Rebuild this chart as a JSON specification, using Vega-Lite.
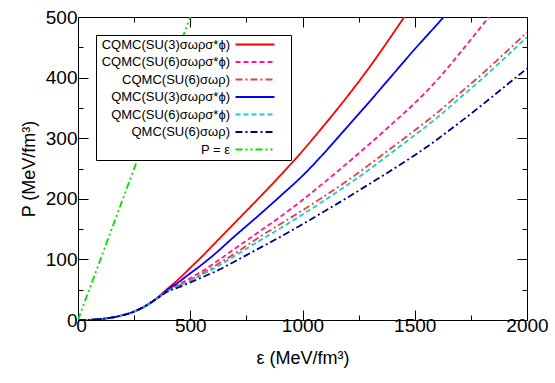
{
  "$schema": "https://vega.github.io/schema/vega-lite/v6.json",
  "width": 449,
  "height": 303,
  "autosize": {"type": "none"},
  "padding": {"left": 78, "top": 17, "right": 28, "bottom": 63},
  "config": {
    "font": "Liberation Sans",
    "view": {"stroke": "black", "strokeWidth": 1},
    "axis": {
      "grid": false, "domain": false, "tickColor": "black", "tickWidth": 1,
      "labelColor": "black", "titleColor": "black",
      "labelFontSize": 19, "titleFontSize": 18, "titleFontWeight": "normal",
      "labelFont": "Liberation Sans", "titleFont": "Liberation Sans",
      "labelFlush": false, "labelOverlap": false, "labelBound": false
    }
  },
  "data": {"values": [
    {"s":"CQMC(SU(3)σωρσ*ϕ)","e":0,"p":0},{"s":"CQMC(SU(3)σωρσ*ϕ)","e":50,"p":0.3},{"s":"CQMC(SU(3)σωρσ*ϕ)","e":100,"p":1.5},{"s":"CQMC(SU(3)σωρσ*ϕ)","e":150,"p":4},{"s":"CQMC(SU(3)σωρσ*ϕ)","e":200,"p":8},{"s":"CQMC(SU(3)σωρσ*ϕ)","e":250,"p":14},{"s":"CQMC(SU(3)σωρσ*ϕ)","e":300,"p":23},{"s":"CQMC(SU(3)σωρσ*ϕ)","e":350,"p":36},{"s":"CQMC(SU(3)σωρσ*ϕ)","e":400,"p":52},{"s":"CQMC(SU(3)σωρσ*ϕ)","e":450,"p":68},{"s":"CQMC(SU(3)σωρσ*ϕ)","e":500,"p":86},{"s":"CQMC(SU(3)σωρσ*ϕ)","e":550,"p":104},{"s":"CQMC(SU(3)σωρσ*ϕ)","e":600,"p":123},{"s":"CQMC(SU(3)σωρσ*ϕ)","e":700,"p":161},{"s":"CQMC(SU(3)σωρσ*ϕ)","e":800,"p":199},{"s":"CQMC(SU(3)σωρσ*ϕ)","e":900,"p":238},{"s":"CQMC(SU(3)σωρσ*ϕ)","e":1000,"p":279},{"s":"CQMC(SU(3)σωρσ*ϕ)","e":1100,"p":323},{"s":"CQMC(SU(3)σωρσ*ϕ)","e":1200,"p":369},{"s":"CQMC(SU(3)σωρσ*ϕ)","e":1300,"p":418},{"s":"CQMC(SU(3)σωρσ*ϕ)","e":1400,"p":471},{"s":"CQMC(SU(3)σωρσ*ϕ)","e":1500,"p":526},
    {"s":"CQMC(SU(6)σωρσ*ϕ)","e":0,"p":0},{"s":"CQMC(SU(6)σωρσ*ϕ)","e":50,"p":0.3},{"s":"CQMC(SU(6)σωρσ*ϕ)","e":100,"p":1.5},{"s":"CQMC(SU(6)σωρσ*ϕ)","e":150,"p":4},{"s":"CQMC(SU(6)σωρσ*ϕ)","e":200,"p":8},{"s":"CQMC(SU(6)σωρσ*ϕ)","e":250,"p":14},{"s":"CQMC(SU(6)σωρσ*ϕ)","e":300,"p":23},{"s":"CQMC(SU(6)σωρσ*ϕ)","e":350,"p":35},{"s":"CQMC(SU(6)σωρσ*ϕ)","e":400,"p":49},{"s":"CQMC(SU(6)σωρσ*ϕ)","e":450,"p":59},{"s":"CQMC(SU(6)σωρσ*ϕ)","e":500,"p":69},{"s":"CQMC(SU(6)σωρσ*ϕ)","e":550,"p":80},{"s":"CQMC(SU(6)σωρσ*ϕ)","e":600,"p":92},{"s":"CQMC(SU(6)σωρσ*ϕ)","e":700,"p":118},{"s":"CQMC(SU(6)σωρσ*ϕ)","e":800,"p":144},{"s":"CQMC(SU(6)σωρσ*ϕ)","e":900,"p":170},{"s":"CQMC(SU(6)σωρσ*ϕ)","e":1000,"p":198},{"s":"CQMC(SU(6)σωρσ*ϕ)","e":1100,"p":228},{"s":"CQMC(SU(6)σωρσ*ϕ)","e":1200,"p":259},{"s":"CQMC(SU(6)σωρσ*ϕ)","e":1300,"p":291},{"s":"CQMC(SU(6)σωρσ*ϕ)","e":1400,"p":324},{"s":"CQMC(SU(6)σωρσ*ϕ)","e":1500,"p":358},{"s":"CQMC(SU(6)σωρσ*ϕ)","e":1600,"p":396},{"s":"CQMC(SU(6)σωρσ*ϕ)","e":1700,"p":440},{"s":"CQMC(SU(6)σωρσ*ϕ)","e":1800,"p":486},{"s":"CQMC(SU(6)σωρσ*ϕ)","e":1900,"p":534},
    {"s":"CQMC(SU(6)σωρ)","e":0,"p":0},{"s":"CQMC(SU(6)σωρ)","e":50,"p":0.3},{"s":"CQMC(SU(6)σωρ)","e":100,"p":1.5},{"s":"CQMC(SU(6)σωρ)","e":150,"p":4},{"s":"CQMC(SU(6)σωρ)","e":200,"p":8},{"s":"CQMC(SU(6)σωρ)","e":250,"p":14},{"s":"CQMC(SU(6)σωρ)","e":300,"p":23},{"s":"CQMC(SU(6)σωρ)","e":350,"p":35},{"s":"CQMC(SU(6)σωρ)","e":400,"p":48},{"s":"CQMC(SU(6)σωρ)","e":450,"p":57},{"s":"CQMC(SU(6)σωρ)","e":500,"p":66},{"s":"CQMC(SU(6)σωρ)","e":550,"p":76},{"s":"CQMC(SU(6)σωρ)","e":600,"p":87},{"s":"CQMC(SU(6)σωρ)","e":700,"p":110},{"s":"CQMC(SU(6)σωρ)","e":800,"p":135},{"s":"CQMC(SU(6)σωρ)","e":900,"p":158},{"s":"CQMC(SU(6)σωρ)","e":1000,"p":181},{"s":"CQMC(SU(6)σωρ)","e":1100,"p":205},{"s":"CQMC(SU(6)σωρ)","e":1200,"p":230},{"s":"CQMC(SU(6)σωρ)","e":1300,"p":257},{"s":"CQMC(SU(6)σωρ)","e":1400,"p":285},{"s":"CQMC(SU(6)σωρ)","e":1500,"p":313},{"s":"CQMC(SU(6)σωρ)","e":1600,"p":342},{"s":"CQMC(SU(6)σωρ)","e":1700,"p":374},{"s":"CQMC(SU(6)σωρ)","e":1800,"p":406},{"s":"CQMC(SU(6)σωρ)","e":1900,"p":440},{"s":"CQMC(SU(6)σωρ)","e":2000,"p":475},
    {"s":"QMC(SU(3)σωρσ*ϕ)","e":0,"p":0},{"s":"QMC(SU(3)σωρσ*ϕ)","e":50,"p":0.3},{"s":"QMC(SU(3)σωρσ*ϕ)","e":100,"p":1.5},{"s":"QMC(SU(3)σωρσ*ϕ)","e":150,"p":4},{"s":"QMC(SU(3)σωρσ*ϕ)","e":200,"p":8},{"s":"QMC(SU(3)σωρσ*ϕ)","e":250,"p":14},{"s":"QMC(SU(3)σωρσ*ϕ)","e":300,"p":23},{"s":"QMC(SU(3)σωρσ*ϕ)","e":350,"p":35},{"s":"QMC(SU(3)σωρσ*ϕ)","e":400,"p":50},{"s":"QMC(SU(3)σωρσ*ϕ)","e":450,"p":63},{"s":"QMC(SU(3)σωρσ*ϕ)","e":500,"p":77},{"s":"QMC(SU(3)σωρσ*ϕ)","e":550,"p":91},{"s":"QMC(SU(3)σωρσ*ϕ)","e":600,"p":106},{"s":"QMC(SU(3)σωρσ*ϕ)","e":700,"p":139},{"s":"QMC(SU(3)σωρσ*ϕ)","e":800,"p":171},{"s":"QMC(SU(3)σωρσ*ϕ)","e":900,"p":204},{"s":"QMC(SU(3)σωρσ*ϕ)","e":1000,"p":238},{"s":"QMC(SU(3)σωρσ*ϕ)","e":1100,"p":277},{"s":"QMC(SU(3)σωρσ*ϕ)","e":1200,"p":319},{"s":"QMC(SU(3)σωρσ*ϕ)","e":1300,"p":361},{"s":"QMC(SU(3)σωρσ*ϕ)","e":1400,"p":404},{"s":"QMC(SU(3)σωρσ*ϕ)","e":1500,"p":447},{"s":"QMC(SU(3)σωρσ*ϕ)","e":1600,"p":488},{"s":"QMC(SU(3)σωρσ*ϕ)","e":1700,"p":530},
    {"s":"QMC(SU(6)σωρσ*ϕ)","e":0,"p":0},{"s":"QMC(SU(6)σωρσ*ϕ)","e":50,"p":0.3},{"s":"QMC(SU(6)σωρσ*ϕ)","e":100,"p":1.5},{"s":"QMC(SU(6)σωρσ*ϕ)","e":150,"p":4},{"s":"QMC(SU(6)σωρσ*ϕ)","e":200,"p":8},{"s":"QMC(SU(6)σωρσ*ϕ)","e":250,"p":14},{"s":"QMC(SU(6)σωρσ*ϕ)","e":300,"p":23},{"s":"QMC(SU(6)σωρσ*ϕ)","e":350,"p":35},{"s":"QMC(SU(6)σωρσ*ϕ)","e":400,"p":48},{"s":"QMC(SU(6)σωρσ*ϕ)","e":450,"p":56},{"s":"QMC(SU(6)σωρσ*ϕ)","e":500,"p":65},{"s":"QMC(SU(6)σωρσ*ϕ)","e":550,"p":74},{"s":"QMC(SU(6)σωρσ*ϕ)","e":600,"p":84},{"s":"QMC(SU(6)σωρσ*ϕ)","e":700,"p":106},{"s":"QMC(SU(6)σωρσ*ϕ)","e":800,"p":129},{"s":"QMC(SU(6)σωρσ*ϕ)","e":900,"p":151},{"s":"QMC(SU(6)σωρσ*ϕ)","e":1000,"p":174},{"s":"QMC(SU(6)σωρσ*ϕ)","e":1100,"p":198},{"s":"QMC(SU(6)σωρσ*ϕ)","e":1200,"p":223},{"s":"QMC(SU(6)σωρσ*ϕ)","e":1300,"p":249},{"s":"QMC(SU(6)σωρσ*ϕ)","e":1400,"p":277},{"s":"QMC(SU(6)σωρσ*ϕ)","e":1500,"p":305},{"s":"QMC(SU(6)σωρσ*ϕ)","e":1600,"p":334},{"s":"QMC(SU(6)σωρσ*ϕ)","e":1700,"p":366},{"s":"QMC(SU(6)σωρσ*ϕ)","e":1800,"p":398},{"s":"QMC(SU(6)σωρσ*ϕ)","e":1900,"p":432},{"s":"QMC(SU(6)σωρσ*ϕ)","e":2000,"p":467},
    {"s":"QMC(SU(6)σωρ)","e":0,"p":0},{"s":"QMC(SU(6)σωρ)","e":50,"p":0.3},{"s":"QMC(SU(6)σωρ)","e":100,"p":1.5},{"s":"QMC(SU(6)σωρ)","e":150,"p":4},{"s":"QMC(SU(6)σωρ)","e":200,"p":8},{"s":"QMC(SU(6)σωρ)","e":250,"p":14},{"s":"QMC(SU(6)σωρ)","e":300,"p":23},{"s":"QMC(SU(6)σωρ)","e":350,"p":35},{"s":"QMC(SU(6)σωρ)","e":400,"p":47},{"s":"QMC(SU(6)σωρ)","e":450,"p":54},{"s":"QMC(SU(6)σωρ)","e":500,"p":62},{"s":"QMC(SU(6)σωρ)","e":550,"p":70},{"s":"QMC(SU(6)σωρ)","e":600,"p":78},{"s":"QMC(SU(6)σωρ)","e":700,"p":97},{"s":"QMC(SU(6)σωρ)","e":800,"p":117},{"s":"QMC(SU(6)σωρ)","e":900,"p":137},{"s":"QMC(SU(6)σωρ)","e":1000,"p":158},{"s":"QMC(SU(6)σωρ)","e":1100,"p":180},{"s":"QMC(SU(6)σωρ)","e":1200,"p":202},{"s":"QMC(SU(6)σωρ)","e":1300,"p":225},{"s":"QMC(SU(6)σωρ)","e":1400,"p":248},{"s":"QMC(SU(6)σωρ)","e":1500,"p":272},{"s":"QMC(SU(6)σωρ)","e":1600,"p":298},{"s":"QMC(SU(6)σωρ)","e":1700,"p":326},{"s":"QMC(SU(6)σωρ)","e":1800,"p":355},{"s":"QMC(SU(6)σωρ)","e":1900,"p":385},{"s":"QMC(SU(6)σωρ)","e":2000,"p":415},
    {"s":"P = ε","e":0,"p":0},{"s":"P = ε","e":500,"p":500}
  ]},
  "layer": [
    {
      "mark": {"type": "line", "strokeWidth": 1.8, "clip": true, "interpolate": "monotone"},
      "encoding": {
        "x": {"field": "e", "type": "quantitative",
          "scale": {"domain": [0, 2000], "nice": false},
          "axis": {"orient": "bottom", "title": "ε (MeV/fm³)", "format": "d",
            "values": [0,250,500,750,1000,1250,1500,1750,2000],
            "labelExpr": "datum.value % 500 === 0 ? datum.label : ''",
            "labelOffset": {"condition": {"test": "datum.value === 0", "value": 3}, "value": 0},
            "tickSize": {"condition": {"test": "datum.value % 500 === 0", "value": -10}, "value": -5},
            "labelPadding": 6, "titlePadding": 9}},
        "y": {"field": "p", "type": "quantitative",
          "scale": {"domain": [0, 500], "nice": false},
          "axis": {"orient": "left", "title": "P (MeV/fm³)", "format": "d",
            "values": [0,50,100,150,200,250,300,350,400,450,500],
            "labelExpr": "datum.value % 100 === 0 ? datum.label : ''",
            "tickSize": {"condition": {"test": "datum.value % 100 === 0", "value": -10}, "value": -5},
            "labelPadding": 11, "titlePadding": 7}},
        "color": {"field": "s", "type": "nominal",
          "scale": {"domain": ["CQMC(SU(3)σωρσ*ϕ)","CQMC(SU(6)σωρσ*ϕ)","CQMC(SU(6)σωρ)","QMC(SU(3)σωρσ*ϕ)","QMC(SU(6)σωρσ*ϕ)","QMC(SU(6)σωρ)","P = ε"],
            "range": ["#ff0000","#ff1493","#f03c3c","#0000ff","#20c8c8","#000080","#00e000"]},
          "legend": {"title": null, "orient": "top-left", "offset": 18,
            "symbolType": "M130,0H169M178,0", "symbolSize": 4, "symbolStrokeWidth": 1.8,
            "labelAlign": "right", "labelOffset": 118, "labelFontSize": 13, "labelLimit": 300,
            "labelColor": "black", "strokeColor": "black", "fillColor": "white",
            "padding": 3, "rowPadding": 3.5}},
        "strokeDash": {"field": "s", "type": "nominal",
          "scale": {"domain": ["CQMC(SU(3)σωρσ*ϕ)","CQMC(SU(6)σωρσ*ϕ)","CQMC(SU(6)σωρ)","QMC(SU(3)σωρσ*ϕ)","QMC(SU(6)σωρσ*ϕ)","QMC(SU(6)σωρ)","P = ε"],
            "range": [[1,0],[5,3],[7,3,2,3],[1,0],[5,3],[7,3,2,3],[7,3,2,3,2,3]]},
          "legend": {"title": null, "orient": "top-left", "offset": 18,
            "symbolType": "M130,0H169M178,0", "symbolSize": 4, "symbolStrokeWidth": 1.8,
            "labelAlign": "right", "labelOffset": 118, "labelFontSize": 13, "labelLimit": 300,
            "labelColor": "black", "strokeColor": "black", "fillColor": "white",
            "padding": 3, "rowPadding": 3.5}}
      }
    },
    {
      "mark": {"type": "line", "strokeOpacity": 0},
      "encoding": {
        "x": {"field": "e", "type": "quantitative",
          "axis": {"orient": "top", "title": null, "labels": false,
            "values": [0,250,500,750,1000,1250,1500,1750,2000],
            "tickSize": {"condition": {"test": "datum.value % 500 === 0", "value": -10}, "value": -5}}},
        "y": {"field": "p", "type": "quantitative",
          "axis": {"orient": "right", "title": null, "labels": false,
            "values": [0,50,100,150,200,250,300,350,400,450,500],
            "tickSize": {"condition": {"test": "datum.value % 100 === 0", "value": -10}, "value": -5}}},
        "detail": {"field": "s"}
      }
    }
  ],
  "resolve": {"axis": {"x": "independent", "y": "independent"}}
}
